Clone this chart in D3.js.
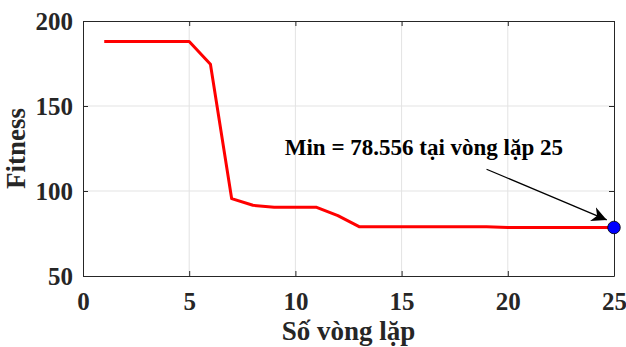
<!DOCTYPE html>
<html>
<head>
<meta charset="utf-8">
<script src="https://cdn.jsdelivr.net/npm/d3@7"></script>
<style>
  body { margin: 0; background: #fff; }
  svg text { font-family: "Liberation Serif", "Times New Roman", serif; font-weight: bold; }
</style>
</head>
<body>
<div id="chart"></div>
<script>
// data
const iterations = [1, 2, 3, 4, 5, 6, 7, 8, 9, 10, 11, 12, 13, 14, 15, 16, 17, 18, 19, 20, 21, 22, 23, 24, 25];
const fitness = [188, 188, 188, 188, 188, 174.5, 95.5, 91.6, 90.4, 90.4, 90.4, 85.5, 79.0, 79.0, 79.0, 79.0, 79.0, 78.9, 78.9, 78.6, 78.6, 78.6, 78.6, 78.56, 78.556];
const xTicks = [0, 5, 10, 15, 20, 25];
const yTicks = [50, 100, 150, 200];
const minLabel = 'Min = 78.556 tại vòng lặp 25';

const config = {
    width: 626,
    height: 347,
    margin: {top: 21, right: 12, bottom: 71, left: 83}
};

const w = config.width - config.margin.left - config.margin.right;
const h = config.height - config.margin.top - config.margin.bottom;
const serif = '"Liberation Serif", "Times New Roman", serif';

const svg = d3.select('#chart').append('svg')
    .attr('width', config.width)
    .attr('height', config.height);

svg.append('defs').append('marker')
    .attr('id', 'arrowhead')
    .attr('viewBox', '0 0 10 10')
    .attr('refX', 10)
    .attr('refY', 5)
    .attr('markerWidth', 15)
    .attr('markerHeight', 15)
    .attr('markerUnits', 'userSpaceOnUse')
    .attr('orient', 'auto')
    .append('path')
    .attr('d', 'M0,0 L10,5 L0,10 L3,5 Z')
    .attr('fill', '#000');

const chart = svg.append('g')
    .attr('transform', `translate(${config.margin.left},${config.margin.top})`);

const xScale = d3.scaleLinear().domain([0, 25]).range([0, w]);
const yScale = d3.scaleLinear().domain([50, 200]).range([h, 0]);

// grid
chart.append('g').selectAll('line')
    .data(xTicks.slice(1, -1))
    .join('line')
    .attr('x1', d => xScale(d)).attr('x2', d => xScale(d))
    .attr('y1', 0).attr('y2', h)
    .attr('stroke', '#e3e3e3').attr('stroke-width', 1);
chart.append('g').selectAll('line')
    .data(yTicks.slice(1, -1))
    .join('line')
    .attr('x1', 0).attr('x2', w)
    .attr('y1', d => yScale(d)).attr('y2', d => yScale(d))
    .attr('stroke', '#e3e3e3').attr('stroke-width', 1);

// axes (inward ticks, box on)
const xAxis = d3.axisBottom(xScale).tickValues(xTicks).tickSizeInner(-5).tickSizeOuter(0).tickPadding(16);
const yAxis = d3.axisLeft(yScale).tickValues(yTicks).tickSizeInner(-5).tickSizeOuter(0).tickPadding(10);

const xAxisG = chart.append('g').attr('transform', `translate(0,${h})`).call(xAxis);
const yAxisG = chart.append('g').call(yAxis);
chart.append('g').call(d3.axisTop(xScale).tickValues(xTicks).tickSizeInner(-5).tickSizeOuter(0).tickFormat(''));
chart.append('g').attr('transform', `translate(${w},0)`)
    .call(d3.axisRight(yScale).tickValues(yTicks).tickSizeInner(-5).tickSizeOuter(0).tickFormat(''));

chart.selectAll('.domain').attr('stroke', '#262626').attr('stroke-width', 1);
chart.selectAll('.tick line').attr('stroke', '#262626');
[xAxisG, yAxisG].forEach(g => {
    g.attr('font-family', serif).attr('font-size', 25);
    g.selectAll('.tick text')
        .attr('fill', '#262626')
        .style('font-size', '25px')
        .style('font-family', serif)
        .style('font-weight', 'bold');
});

// fitness curve
const line = d3.line()
    .x((d, i) => xScale(iterations[i]))
    .y(d => yScale(d));

chart.append('path')
    .datum(fitness)
    .attr('d', line)
    .attr('fill', 'none')
    .attr('stroke', '#ff0000')
    .attr('stroke-width', 3)
    .attr('stroke-linejoin', 'round');

// annotation arrow + minimum marker
const last = iterations.length - 1;
chart.append('line')
    .attr('x1', xScale(19.0)).attr('y1', yScale(112.8))
    .attr('x2', xScale(24.66)).attr('y2', yScale(83.0))
    .attr('stroke', '#000').attr('stroke-width', 1.3)
    .attr('marker-end', 'url(#arrowhead)');

chart.append('circle')
    .attr('cx', xScale(iterations[last]))
    .attr('cy', yScale(fitness[last]))
    .attr('r', 6.3)
    .attr('fill', '#0000ff')
    .attr('stroke', '#000')
    .attr('stroke-width', 0.8);

chart.append('text')
    .attr('x', xScale(16.05))
    .attr('y', yScale(121.2))
    .attr('text-anchor', 'middle')
    .style('font-size', '23px')
    .attr('fill', '#000')
    .text(minLabel);

// axis titles
svg.append('text')
    .attr('x', config.margin.left + w / 2)
    .attr('y', 340)
    .attr('text-anchor', 'middle')
    .attr('fill', '#262626')
    .style('font-size', '27px')
    .text('Số vòng lặp');

svg.append('text')
    .attr('transform', `translate(25,${config.margin.top + h / 2}) rotate(-90)`)
    .attr('text-anchor', 'middle')
    .attr('fill', '#262626')
    .style('font-size', '27px')
    .text('Fitness');
</script>
</body>
</html>
